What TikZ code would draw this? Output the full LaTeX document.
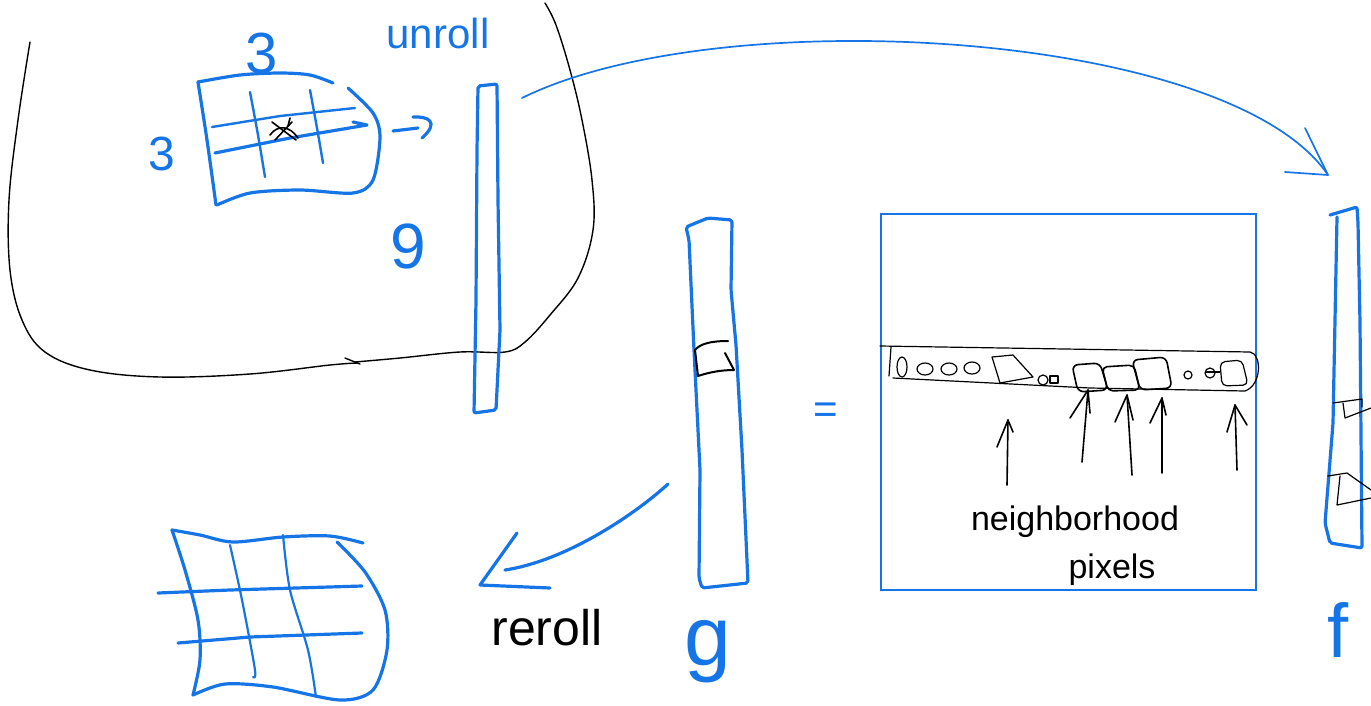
\documentclass[tikz,border=0pt]{standalone}
\usepackage{fontspec}
\setmainfont{Liberation Sans}
\definecolor{pen}{RGB}{22,117,230}
\tikzset{
  bl/.style={draw=pen,line width=3.2pt,line cap=round,line join=round},
  blt/.style={draw=pen,line width=1.7pt,line cap=round,line join=round},
  bk/.style={draw=black,line width=1.6pt,line cap=round,line join=round},
  bkt/.style={draw=black,line width=1.2pt,line cap=round,line join=round},
  lbl/.style={text=pen,inner sep=0pt},
  lblk/.style={text=black,inner sep=0pt}
}
\begin{document}
\begin{tikzpicture}[x=1pt,y=-1pt]
\useasboundingbox (0,0) rectangle (1371,705);

% big black blob around the unroll step
\draw[bkt,line width=1.4pt] plot[smooth,tension=0.6] coordinates {(30,42) (18,120) (9,200) (10,270) (22,320) (45,352) (90,370) (160,377) (250,374) (330,365) (358,363)};
\draw[bkt,line width=1.4pt] (345,358) -- (360,364);
\draw[bkt,line width=1.4pt] plot[smooth,tension=0.6] coordinates {(355,362) (400,358) (460,352) (505,352) (525,342) (550,315) (578,278) (593,230) (592,180) (582,120) (570,70) (556,25) (545,3)};

% labels of the small kernel
\node[lbl,font=\fontsize{58}{62}\selectfont] (three1) at (262,54) {3};
\node[lbl,font=\fontsize{48}{52}\selectfont] (three2) at (162,154) {3};
\node[lbl,font=\fontsize{42}{46}\selectfont] (unroll) at (438,33) {unroll};
\node[lbl,font=\fontsize{64}{68}\selectfont] (nine) at (408,246) {9};

% small 3x3 kernel
\draw[bl] plot[smooth] coordinates {(198,82) (207,140) (216,205)};
\draw[bl] plot[smooth] coordinates {(198,82) (240,75) (280,73) (310,75) (333,83)};
\draw[bl] plot[smooth] coordinates {(217,205) (250,193) (300,190) (353,193) (373,180) (380,137) (373,113) (348,88)};
\draw[blt,line width=2.4pt] plot[smooth] coordinates {(250,92) (258,135) (265,177)};
\draw[blt,line width=2.4pt] plot[smooth] coordinates {(310,90) (317,128) (323,163)};
\draw[blt,line width=2.4pt] (212,127) -- (280,116) -- (355,108);
\draw[bl] (215,153) -- (290,138) -- (367,125) -- (353,122);
% scribbled centre pixel
\draw[bk] (272,122) -- (296,140);
\draw[bk] (275,140) -- (292,122);
\draw[bk] (270,135) .. controls (278,124) and (290,126) .. (298,138);
\draw[bk] (290,118) -- (288,126);
% small arrow
\coordinate (sa) at (393,131);
\coordinate (sb) at (434,125);
\draw[bl] (sa) -- (418,128);
\draw[bl] (413,117) .. controls (428,116) and (440,122) .. (422,138);

% unrolled column vector
\draw[bl,rounded corners=2pt] (478,86) -- (497,84) -- (498,200) -- (500,330) -- (496,410) -- (474,413) -- (476,300) -- (477,150) -- cycle;
\coordinate (u1) at (522,98);
\coordinate (u2) at (1328,175);
\draw[blt] (u1) .. controls (720,0) and (1230,30) .. (u2);
\draw[blt] (1305,128) -- (u2) -- (1285,172);

% column g
\draw[bl,rounded corners=2pt] (686,227) -- (708,218) -- (732,220) -- (731,290) -- (736,345) -- (742,450) -- (748,583) -- (702,588) -- (699,578) -- (700,470) -- (694,350) -- (689,240) -- cycle;
\draw[bk,line width=2pt] (728,341) .. controls (710,341) and (700,344) .. (695,350) -- (698,376) .. controls (710,372) and (722,370) .. (734,370) -- (725,353);
\node[lbl,font=\fontsize{84}{88}\selectfont] (g) at (708,652) {g};
\node[lbl,font=\fontsize{42}{46}\selectfont] (eq) at (826,413) {=};

% matrix box with neighbourhood strip
\draw[pen,line width=1.5pt] (881,214) rectangle (1256,590);
\draw[bkt] (880,346) -- (1250,352) .. controls (1262,354) and (1262,385) .. (1245,391) -- (1090,388) -- (893,378);
\draw[bkt] (891,347) -- (889,376);
\draw[bkt] (902,367) ellipse (5 and 10);
\draw[bkt] (925,369) ellipse (8 and 6);
\draw[bkt] (949,369) ellipse (8 and 6);
\draw[bkt] (972,368) ellipse (8 and 6);
\draw[bkt] (992,357) -- (1013,355) -- (1033,377) -- (1000,383) -- cycle;
\draw[bkt] (1043,380) circle (5);
\draw[bkt] (1050,376) rectangle (1058,383);
\draw[bk,rounded corners=6pt] (1072,365) -- (1100,363) -- (1108,390) -- (1078,392) -- cycle;
\draw[bk,rounded corners=5pt] (1102,367) -- (1134,365) -- (1140,390) -- (1108,391) -- cycle;
\draw[bk,rounded corners=6pt] (1132,360) -- (1166,357) -- (1172,388) -- (1140,390) -- cycle;
\draw[bkt] (1188,375) circle (4);
\draw[bkt] (1210,373) circle (5);
\draw[bkt] (1206,372) -- (1220,372);
\draw[bkt,rounded corners=5pt] (1220,362) -- (1242,360) -- (1248,385) -- (1222,386) -- cycle;
% arrows pointing at the neighbourhood pixels
\foreach \n/\bx/\by/\tx/\ty/\lx/\ly/\rx/\ry in {
  a/1007/485/1008/420/997/447/1013/432,
  b/1082/462/1088/390/1070/418/1090/413,
  c/1132/475/1127/395/1115/422/1133/420,
  d/1162/473/1162/398/1150/423/1166/415,
  e/1237/470/1235/405/1227/432/1247/425}{
  \coordinate (t\n) at (\bx,\by);
  \coordinate (h\n) at (\tx,\ty);
  \draw[bk] (t\n) -- (h\n);
  \draw[bk] (\lx,\ly) -- (h\n) -- (\rx,\ry);
}
\node[lblk,font=\fontsize{34}{38}\selectfont] (nb) at (1075,522) {neighborhood};
\node[lblk,font=\fontsize{34}{38}\selectfont] (px) at (1112,570) {pixels};

% column f
\draw[bl,rounded corners=2pt] (1330,215) -- (1357,207) -- (1358,223) -- (1360,323) -- (1362,548) -- (1330,543) -- (1325,523) -- (1333,423) -- (1337,217);
\draw[bkt] (1333,403) -- (1362,399) -- (1362,407);
\draw[bkt] (1343,403) -- (1345,418) -- (1371,408);
\draw[bkt] (1328,476) -- (1347,473) -- (1371,490);
\draw[bkt] (1340,476) -- (1337,505) -- (1371,498);
\node[lbl,font=\fontsize{76}{80}\selectfont] (f) at (1338,630) {f};

% reroll arrow
\coordinate (r1) at (668,484);
\coordinate (r2) at (480,585);
\draw[bl] (r1) .. controls (640,510) and (570,560) .. (505,570);
\draw[bl] (517,533) -- (r2) -- (550,588);
\node[lblk,font=\fontsize{50}{54}\selectfont] (reroll) at (547,628) {reroll};

% rerolled 3x3 grid
\draw[bl] plot[smooth] coordinates {(172,530) (200,535) (233,542) (283,537) (330,536) (363,543)};
\draw[bl] plot[smooth] coordinates {(172,530) (185,570) (198,620) (200,660) (193,695)};
\draw[bl] plot[smooth] coordinates {(193,695) (225,684) (273,687) (340,700) (373,690) (387,650) (385,610) (365,572) (337,542)};
\draw[blt,line width=2.2pt] plot[smooth] coordinates {(230,545) (242,600) (255,670) (253,677)};
\draw[blt,line width=2.2pt] plot[smooth] coordinates {(283,535) (290,590) (308,650) (316,697)};
\draw[bl] (158,593) -- (230,590) -- (362,586);
\draw[bl] (178,643) -- (250,637) -- (362,633);
\end{tikzpicture}
\end{document}
